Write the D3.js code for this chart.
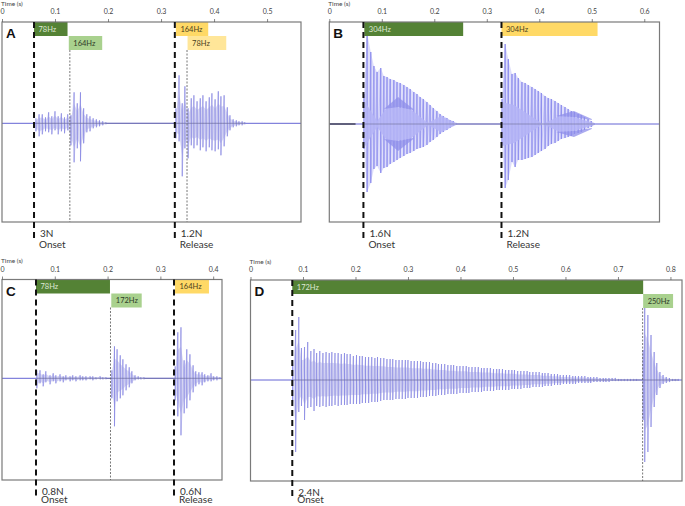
<!DOCTYPE html>
<html>
<head>
<meta charset="utf-8">
<script src="https://cdn.jsdelivr.net/npm/d3@7"></script>
<style>
  html, body { margin: 0; padding: 0; background: #fff; }
  svg { display: block; }
  text { font-family: Lato, "Open Sans", sans-serif; }
</style>
</head>
<body>
<div id="chart"></div>
<script>
// Values. Times in seconds, amplitudes in % of half the plot height.

// Panel A
var aTicks = [0, 0.1, 0.2, 0.3, 0.4, 0.5];
var aTime1 = [.064,.070,.076,.082,.088,.094,.100,.106,.112,.118,.124,.130,.136,.142,.148,.154,.160,.166,.172,.178,.184,.190,.196];
var aUp1 = [5,9,9,6,11,7,12,7,10,6,9,8,31,20,31,15,9,7,5,4,3,2,1];
var aLow1 = [8,13,11,8,9,11,7,11,8,10,7,22,39,25,38,20,9,8,5,4,3,2,1];
var aTime2 = [.328,.334,.340,.345,.351,.357,.362,.368,.374,.379,.385,.391,.396,.402,.408,.413,.419,.425,.430,.436,.442,.447,.453,.458];
var aUp2 = [15,48,20,37,15,25,28,22,25,28,22,26,30,24,32,27,28,16,8,4,3,2,2,1];
var aLow2 = [15,18,53,25,35,22,25,22,27,24,28,24,27,28,26,32,23,13,7,4,3,2,2,1];
var aBarStart = [.0604,.126,.328,.350];
var aBarEnd = [.1236,.189,.389,.423];
var aBarLabel = ["78Hz","164Hz","164Hz","78Hz"];
var aBarKind = ["onset","onset2","release","release2"];
var aOnsets = [.0604,.326];
var aFine = [.128,.349];
var aForce = ["3N","1.2N"];
var aPhase = ["Onset","Release"];

// Panel B
var bTicks = [0, 0.1, 0.2, 0.3, 0.4, 0.5, 0.6];
var bTime1 = [.066,.072,.079,.085,.091,.098,.104,.110,.116,.123,.129,.135,.142,.148,.154,.161,.167,.173,.179,.186,.192,.198,.205,.211,.217,.224,.230,.236,.242];
var bUp1 = [30,91,72,58,52,56,48,47,45,44,42,41,39,37,35,32,30,27,25,22,19,16,13,10,8,6,4,3,1];
var bLow1 = [25,68,59,45,42,49,44,43,40,38,36,34,32,30,29,27,25,24,23,21,18,16,13,10,8,6,4,2,1];
var bTime2 = [.329,.335,.341,.348,.354,.360,.367,.373,.379,.386,.392,.398,.404,.411,.417,.423,.430,.436,.442,.449,.455,.461,.467,.474,.480,.486,.493,.499,.505];
var bUp2 = [25,80,65,50,51,46,42,41,39,37,35,33,31,28,26,25,23,21,19,17,15,13,12,10,9,7,5,3,1];
var bLow2 = [20,64,56,38,43,36,36,35,34,33,31,29,27,25,22,20,19,17,15,14,13,12,10,9,8,6,4,3,1];
var bLensTime1 = [.066,.091,.112,.154,.188,.213,.245];
var bLensAmp1 = [24,3,18,15,1,8,0];
var bLensTime2 = [.329,.352,.407,.439,.466,.510];
var bLensAmp2 = [22,19,0,8,7,0];
var bBeatTime1 = [.104,.131,.160];
var bBeatOuter1 = [15,27,15];
var bBeatInner1 = [15,17,14];
var bBeatTime2 = [.432,.466,.500];
var bBeatOuter2 = [8,13,5];
var bBeatInner2 = [8,7,4];
var bQuietEnd = .05;
var bBarStart = [.0667,.328];
var bBarEnd = [.255,.511];
var bBarLabel = ["304Hz","304Hz"];
var bBarKind = ["onset","release"];
var bOnsets = [.065,.328];
var bForce = ["1.6N","1.2N"];
var bPhase = ["Onset","Release"];

// Panel C
var cTicks = [0, 0.1, 0.2, 0.3, 0.4];
var cTime1 = [.066,.072,.078,.083,.091,.097,.102,.110,.116,.121,.129,.134,.140,.148,.153,.159,.167,.172,.178,.186,.191,.197];
var cUp1 = [8,8,4,7,3,5,3,4,2,3,2,3,2,3,2,2,2,2,1,2,1,1];
var cLow1 = [10,5,8,4,6,3,5,3,4,2,3,2,3,2,2,2,1,2,1,1,1,1];
var cTime2 = [.208,.213,.218,.224,.229,.235,.241,.246,.252,.258,.263,.269];
var cUp2 = [8,32,29,23,19,14,11,7,3,2,1,1];
var cLow2 = [20,48,23,20,17,12,9,5,2,1,1,1];
var cTime3 = [.328,.333,.339,.345,.350,.356,.362,.367,.373,.379,.384,.390,.396,.401,.407,.413];
var cUp3 = [12,46,51,18,29,24,13,7,6,6,4,3,5,2,2,1];
var cLow3 = [22,38,57,35,30,22,14,8,6,7,4,3,3,2,2,1];
var cBarStart = [.0644,.207,.3277];
var cBarEnd = [.2045,.2646,.392];
var cBarLabel = ["78Hz","172Hz","164Hz"];
var cBarKind = ["onset","onset2","release"];
var cOnsets = [.0644,.3258];
var cFine = [.2055];
var cForce = ["0.8N","0.6N"];
var cPhase = ["Onset","Release"];

// Panel D
var dTicks = [0, 0.1, 0.2, 0.3, 0.4, 0.5, 0.6, 0.7, 0.8];
var dTime1 = [.080,.086,.092,.097,.103,.109,.115,.121,.126,.132,
  .138,.144,.150,.155,.161,.167,.173,.179,.184,.190,
  .196,.202,.208,.213,.219,.225,.231,.237,.242,.248,
  .254,.260,.266,.271,.277,.283,.289,.295,.300,.306,
  .312,.318,.324,.329,.335,.341,.347,.353,.358,.364,
  .370,.376,.382,.387,.393,.399,.405,.411,.416,.422,
  .428,.434,.440,.445,.451,.457,.463,.469,.474,.480,
  .486,.492,.498,.503,.509,.515,.521,.527,.532,.538,
  .544,.550,.556,.561,.567,.573,.579,.585,.590,.596,
  .602,.608,.614,.619,.625,.631,.637,.643,.648,.654,
  .660,.666,.672,.677,.683,.689,.695,.701,.706,.712,
  .718,.724,.730,.735];
var dUp1 = [18,50,63,32,33,38,29,31,27,29,
  27,28,27,28,27,27,26,27,26,26,
  24,25,24,24,23,23,23,22,23,22,
  22,21,21,21,20,20,20,20,20,19,
  19,19,19,18,18,18,17,17,16,16,
  16,15,15,15,14,14,14,14,13,13,
  13,13,12,12,12,12,11,11,11,11,
  10,10,10,10,9,9,9,9,8,8,
  8,8,7,7,7,6,6,6,5,5,
  5,5,4,4,4,4,4,3,3,3,
  3,2,2,2,2,2,2,1,1,1,
  1,1,1,1];
var dLow1 = [25,72,32,26,40,28,27,31,26,27,
  26,27,26,26,25,26,25,25,25,24,
  24,24,24,23,23,23,22,22,22,21,
  20,20,20,20,19,19,19,19,18,18,
  18,18,17,17,17,16,16,16,15,15,
  15,14,14,14,14,13,13,13,13,12,
  12,12,12,11,11,11,11,10,10,10,
  10,10,9,9,9,9,8,8,8,7,
  7,7,7,6,6,6,5,5,5,4,
  4,4,4,4,3,3,3,3,3,2,
  2,2,2,2,2,1,1,1,1,1,
  1,1,1,1];
var dTime2 = [.748,.751,.757,.763,.769,.774,.780,.786,.792,.798,.804,.809,.815];
var dUp2 = [30,75,65,45,28,17,8,5,3,2,1,1,1];
var dLow2 = [40,82,72,47,27,15,8,4,3,2,1,1,1];
var dBarStart = [.0796,.748];
var dBarEnd = [.748,.805];
var dBarLabel = ["172Hz","250Hz"];
var dBarKind = ["onset","onset2"];
var dOnsets = [.0796];
var dFine = [.747];
var dForce = ["2.4N"];
var dPhase = ["Onset"];

var barFill = { onset: "#548235", onset2: "#a9d18e", release: "#ffd966", release2: "#ffe699" };
var barText = { onset: "#dfe9d6", onset2: "#2f3a28", release: "#4a4020", release2: "#4a4020" };
var barRow = { onset: 0, onset2: 1, release: 0, release2: 1 };

var svg = d3.select("#chart").append("svg")
  .attr("width", 685)
  .attr("height", 506);

function zip(time, up, low) {
  return time.map(function(t, i) { return { t: t, up: up[i], low: low[i] }; });
}

function drawPanel(p) {
  var x = d3.scaleLinear().domain([0, p.end]).range([p.left, p.right]);
  var y = d3.scaleLinear().domain(p.yDomain).range([p.bottom, p.top]);
  var g = svg.append("g");

  // baseline
  g.append("line")
    .attr("x1", p.left).attr("x2", p.right)
    .attr("y1", y(0)).attr("y2", y(0))
    .attr("stroke", "#6464d4").attr("stroke-width", 1);

  p.waves.forEach(function(w) {
    // pale body of the waveform
    var zigzag = [];
    w.forEach(function(d) {
      zigzag.push([x(d.t), y(d.up)]);
      zigzag.push([x(d.t), y(-d.low)]);
    });
    g.append("path").datum(w)
      .attr("d", d3.area().x(d => x(d.t)).y0(d => y(-d.low * p.body)).y1(d => y(d.up * p.body)))
      .attr("fill", p.bodyFill).attr("opacity", p.bodyOpacity);
    g.append("path")
      .attr("d", d3.line()(zigzag))
      .attr("fill", "none")
      .attr("stroke", p.zigFill).attr("stroke-width", 0.8).attr("opacity", 0.8);

    // pulses
    g.selectAll(null).data(w).enter().append("line")
      .attr("x1", d => x(d.t)).attr("x2", d => x(d.t))
      .attr("y1", d => y(d.up)).attr("y2", d => y(-d.low))
      .attr("stroke", p.spike).attr("stroke-width", p.spikeWidth).attr("opacity", p.spikeOpacity);
  });

  // beat pattern seen in panel B, over the pulses
  (p.lenses || []).forEach(function(l) {
    var pts = l.time.map(function(t, i) { return { t: t, a: l.amp[i] }; });
    g.append("path").datum(pts)
      .attr("d", d3.area().x(d => x(d.t)).y0(d => y(-d.a)).y1(d => y(d.a)))
      .attr("fill", "#b4b4f6").attr("opacity", 0.85);
  });

  (p.beats || []).forEach(function(b) {
    var pts = b.time.map(function(t, i) { return { t: t, o: b.outer[i], n: b.inner[i] }; });
    [1, -1].forEach(function(sign) {
      g.append("path").datum(pts)
        .attr("d", d3.area().x(d => x(d.t)).y0(d => y(sign * d.n)).y1(d => y(sign * d.o)))
        .attr("fill", "#8f8fea").attr("opacity", 0.75);
    });
  });

  // grey centre line over the wave
  g.append("line")
    .attr("x1", x(p.waves[0][0].t)).attr("x2", x(p.waves[p.waves.length - 1].slice(-1)[0].t))
    .attr("y1", y(0)).attr("y2", y(0))
    .attr("stroke", "#6b6b90").attr("stroke-width", 0.8).attr("opacity", 0.7);

  if (p.quietEnd) {
    g.append("line")
      .attr("x1", x(0)).attr("x2", x(p.quietEnd))
      .attr("y1", y(0)).attr("y2", y(0))
      .attr("stroke", "#111").attr("stroke-width", 1);
  }

  // pitch bars
  var rowH = 14;
  p.barStart.forEach(function(s, i) {
    var kind = p.barKind[i];
    var by = p.top + barRow[kind] * rowH;
    g.append("rect")
      .attr("x", x(s)).attr("y", by)
      .attr("width", x(p.barEnd[i]) - x(s)).attr("height", rowH)
      .attr("fill", barFill[kind]);
    g.append("text")
      .attr("x", x(s) + 4.5).attr("y", by + 9.5)
      .attr("font-size", 7.5)
      .attr("fill", barText[kind])
      .text(p.barLabel[i]);
  });

  // plot frame
  g.append("rect")
    .attr("x", p.left).attr("y", p.top)
    .attr("width", p.right - p.left).attr("height", p.bottom - p.top)
    .attr("fill", "none").attr("stroke", "#7a7a7a").attr("stroke-width", 1.2);

  // fine dotted change markers start under the second bar row
  (p.fine || []).forEach(function(t) {
    g.append("line")
      .attr("x1", x(t)).attr("x2", x(t))
      .attr("y1", p.top + rowH * 2).attr("y2", p.bottom)
      .attr("stroke", "#555").attr("stroke-width", 0.8).attr("stroke-dasharray", "2,1.5");
  });

  // heavy dashed event markers with their notes
  p.onsets.forEach(function(t, i) {
    g.append("line")
      .attr("x1", x(t)).attr("x2", x(t))
      .attr("y1", p.top).attr("y2", p.bottom + 19)
      .attr("stroke", "#111").attr("stroke-width", 2).attr("stroke-dasharray", "6,4");
    g.append("text")
      .attr("x", x(t) + 6).attr("y", p.bottom + 14.5)
      .attr("font-size", 10).attr("fill", "#333")
      .text(p.force[i]);
    g.append("text")
      .attr("x", x(t) + 5).attr("y", p.bottom + p.noteGap)
      .attr("font-size", 10).attr("fill", "#333")
      .text(p.phase[i]);
  });

  // time axis on top
  var axis = g.append("g")
    .attr("transform", `translate(0, ${p.top})`)
    .call(d3.axisTop(x).tickValues(p.ticks).tickSize(3).tickPadding(5).tickFormat(d => d === 0 ? "0" : d3.format(".1f")(d)));
  axis.select(".domain").remove();
  axis.selectAll("line").attr("stroke", "#555").attr("stroke-width", 0.7);
  axis.selectAll("text")
    .attr("font-size", 7).attr("fill", "#444")
    .style("font-family", "Lato, sans-serif");

  g.append("text")
    .attr("x", p.left - 1).attr("y", p.top - 16.5)
    .attr("font-size", 6.5).attr("fill", "#444")
    .text("Time (s)");

  g.append("text")
    .attr("x", p.left + 4).attr("y", p.top + 16)
    .attr("font-size", 13.5).attr("font-weight", "bold").attr("fill", "#111")
    .style("font-family", "'Liberation Sans', Arial, sans-serif")
    .text(p.name);
}

var greyWave = { body: 0.62, bodyFill: "#cfcff0", bodyOpacity: 0.75, zigFill: "#c0c0ee", spike: "#5f5fdc", spikeWidth: 0.8, spikeOpacity: 0.7 };
var blueWave = { body: 1, bodyFill: "#dcdcfb", bodyOpacity: 0.95, zigFill: "#b4b4f4", spike: "#8282ec", spikeWidth: 1.1, spikeOpacity: 0.85 };

drawPanel(Object.assign({}, greyWave, {
  name: "A", left: 2, right: 301, top: 22, bottom: 222, end: 0.564, yDomain: [-98.7, 101.3], noteGap: 26,
  ticks: aTicks, waves: [zip(aTime1, aUp1, aLow1), zip(aTime2, aUp2, aLow2)],
  barStart: aBarStart, barEnd: aBarEnd, barLabel: aBarLabel, barKind: aBarKind,
  onsets: aOnsets, fine: aFine, force: aForce, phase: aPhase
}));

drawPanel(Object.assign({}, blueWave, {
  name: "B", left: 329.3, right: 659.5, top: 22, bottom: 222, end: 0.629, yDomain: [-98, 102], noteGap: 26,
  ticks: bTicks, waves: [zip(bTime1, bUp1, bLow1), zip(bTime2, bUp2, bLow2)],
  lenses: [{ time: bLensTime1, amp: bLensAmp1 }, { time: bLensTime2, amp: bLensAmp2 }],
  beats: [{ time: bBeatTime1, outer: bBeatOuter1, inner: bBeatInner1 }, { time: bBeatTime2, outer: bBeatOuter2, inner: bBeatInner2 }],
  quietEnd: bQuietEnd,
  barStart: bBarStart, barEnd: bBarEnd, barLabel: bBarLabel, barKind: bBarKind,
  onsets: bOnsets, force: bForce, phase: bPhase
}));

drawPanel(Object.assign({}, greyWave, {
  name: "C", left: 2, right: 222, top: 279.5, bottom: 480, end: 0.4167, yDomain: [-101.7, 98.8], noteGap: 23,
  ticks: cTicks, waves: [zip(cTime1, cUp1, cLow1), zip(cTime2, cUp2, cLow2), zip(cTime3, cUp3, cLow3)],
  barStart: cBarStart, barEnd: cBarEnd, barLabel: cBarLabel, barKind: cBarKind,
  onsets: cOnsets, fine: cFine, force: cForce, phase: cPhase
}));

drawPanel(Object.assign({}, greyWave, {
  name: "D", left: 250.5, right: 682, top: 280, bottom: 481, end: 0.822, yDomain: [-101, 100], noteGap: 22,
  ticks: dTicks, waves: [zip(dTime1, dUp1, dLow1), zip(dTime2, dUp2, dLow2)],
  barStart: dBarStart, barEnd: dBarEnd, barLabel: dBarLabel, barKind: dBarKind,
  onsets: dOnsets, fine: dFine, force: dForce, phase: dPhase
}));
</script>
</body>
</html>
